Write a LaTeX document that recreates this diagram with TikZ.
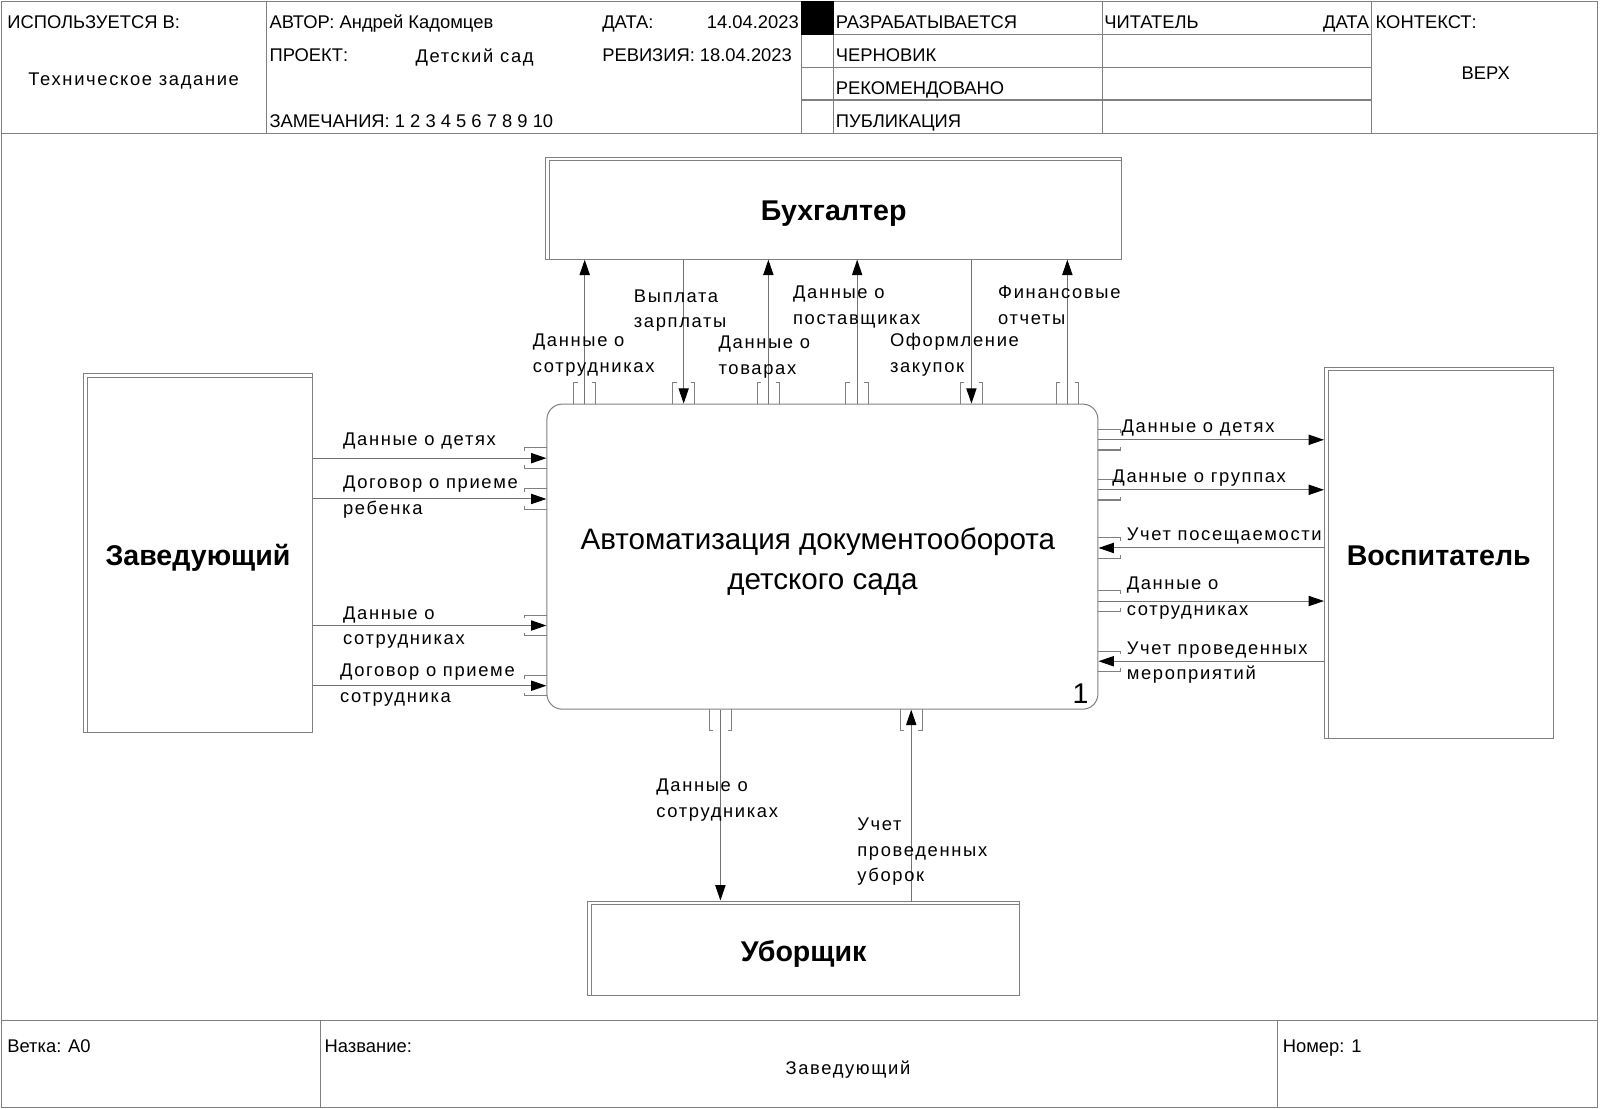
\documentclass[tikz,border=0pt]{standalone}
\usepackage{fontspec}
\setmainfont{Liberation Sans}
\newfontfamily\spacedfont[LetterSpace=9]{Liberation Sans}
\usetikzlibrary{arrows.meta}

\tikzset{
	frame/.style = {draw=black!50, line width=1pt},
	flow/.style = {draw=black!55, line width=1pt, -{Triangle[length=15pt, width=10pt, color=black]}},
	entity/.style = {frame, rectangle, inner sep=0pt, text height=25pt, text depth=0pt, font=\fontsize{28}{34}\bfseries},
	process/.style = {frame, rounded corners=15pt, inner sep=0pt, align=center, font=\fontsize{29}{39}\selectfont},
	hdr/.style = {anchor=base west, inner sep=0pt, font=\fontsize{18}{22}\selectfont},
	flowtext/.style = {anchor=base west, inner sep=0pt, align=left, font=\fontsize{18}{25}\spacedfont},
}

\begin{document}
\begin{tikzpicture}[x=1pt, y=-1pt]
		\useasboundingbox (0,0) rectangle (1568,1086);
		
		% sheet
		\draw [frame] (1,1) rectangle (1566,1085);
		\draw [frame] (1,131) -- (1566,131);
		\draw [frame] (1,1000) -- (1566,1000);
		\foreach \x in {261, 785, 817, 1080, 1344}
			\draw [frame] (\x,1) -- (\x,131);
		\foreach \y in {34, 66, 98}
			\draw [frame] (785,\y) -- (1344,\y);
		\fill (785,1) rectangle (817,34);
		\draw [frame] (314,1000) -- (314,1085);
		\draw [frame] (1252,1000) -- (1252,1085);
		
		\node [hdr] (used in) at (7,27.5) {ИСПОЛЬЗУЕТСЯ В:};
		\node [hdr, anchor=base, font=\fontsize{18}{22}\spacedfont] (spec) at (131,83.5) {Техническое задание};
		\node [hdr] (author) at (264,27.5) {АВТОР: Андрей Кадомцев};
		\node [hdr] (project) at (264,60.5) {ПРОЕКТ:};
		\node [hdr, font=\fontsize{18}{22}\spacedfont] (project name) at (407,61) {Детский сад};
		\node [hdr] (notes) at (264,124.5) {ЗАМЕЧАНИЯ: 1 2 3 4 5 6 7 8 9 10};
		\node [hdr] (date) at (590,27.5) {ДАТА:};
		\node [hdr, anchor=base east] (date value) at (783,27.5) {14.04.2023};
		\node [hdr] (revision) at (590,60.5) {РЕВИЗИЯ: 18.04.2023};
		\node [hdr] (working) at (819,27.5) {РАЗРАБАТЫВАЕТСЯ};
		\node [hdr] (draft) at (819,60.5) {ЧЕРНОВИК};
		\node [hdr] (recommended) at (819,92.5) {РЕКОМЕНДОВАНО};
		\node [hdr] (publication) at (819,124.5) {ПУБЛИКАЦИЯ};
		\node [hdr] (reader) at (1082,27.5) {ЧИТАТЕЛЬ};
		\node [hdr, anchor=base east] (reader date) at (1342,27.5) {ДАТА};
		\node [hdr] (context) at (1348,27.5) {КОНТЕКСТ:};
		\node [hdr, anchor=base] (top) at (1456,77.5) {ВЕРХ};
		
		\node [hdr] (branch) at (7,1031.5) {Ветка: A0};
		\node [hdr] (title) at (318,1031.5) {Название:};
		\node [hdr, anchor=base, font=\fontsize{18}{22}\spacedfont] (title value) at (831,1053) {Заведующий};
		\node [hdr] (number) at (1257,1031.5) {Номер: 1};
		
		% boxes
		\node [process, minimum width=540pt, minimum height=299pt] (process) at (806,545.5) {\rule{0pt}{31pt}Автоматизация документооборота\hspace*{9pt}\\детского сада};
		\node [anchor=base east, inner sep=0pt, font=\fontsize{28}{34}\selectfont] (process number) at (1067,689) {1};
		
		\node [entity, minimum width=564pt, minimum height=100pt] (accountant) at (817,204) {Бухгалтер};
		\node [entity, minimum width=224pt, minimum height=352pt] (head) at (194,542) {Заведующий};
		\node [entity, minimum width=224pt, minimum height=364pt] (teacher) at (1410,542) {Воспитатель};
		\node [entity, minimum width=423pt, minimum height=93pt] (cleaner) at (787.5,929.5) {Уборщик};
		
		\foreach \n in {accountant, head, teacher, cleaner}
			\draw [frame] ([xshift=4pt]\n.south west) |- ([yshift=-4pt]\n.north east);
		
		% tunnel brackets
		\foreach \x in {573, 670, 753, 840, 952, 1046} {
			\draw [frame] (\x-7,375) -- (\x-11,375) -- (\x-11,396);
			\draw [frame] (\x+7,375) -- (\x+11,375) -- (\x+11,396);
		}
		\foreach \x in {706, 893} {
			\draw [frame] (\x-11,695) -- (\x-11,716) -- (\x-7,716);
			\draw [frame] (\x+11,695) -- (\x+11,716) -- (\x+7,716);
		}
		\foreach \y in {449, 489, 613, 672} {
			\draw [frame] (514,\y-7) -- (514,\y-10) -- (536,\y-10);
			\draw [frame] (514,\y+7) -- (514,\y+10) -- (536,\y+10);
		}
		\foreach \y in {431, 480, 537, 589, 648} {
			\draw [frame] (1076,\y-10) -- (1098,\y-10) -- (1098,\y-7);
			\draw [frame] (1076,\y+10) -- (1098,\y+10) -- (1098,\y+7);
		}
		
		% accountant
		\draw [flow] (process.north -| 573,0) -- (accountant.south -| 573,0);
		\draw [flow] (accountant.south -| 670,0) -- (process.north -| 670,0);
		\draw [flow] (process.north -| 753,0) -- (accountant.south -| 753,0);
		\draw [flow] (process.north -| 840,0) -- (accountant.south -| 840,0);
		\draw [flow] (accountant.south -| 952,0) -- (process.north -| 952,0);
		\draw [flow] (process.north -| 1046,0) -- (accountant.south -| 1046,0);
		\node [flowtext] (staff text) at (522,365) {Данные о\\сотрудниках};
		\node [flowtext] (salary text) at (621,321) {Выплата\\зарплаты};
		\node [flowtext] (goods text) at (704,367) {Данные о\\товарах};
		\node [flowtext] (suppliers text) at (777,318) {Данные о\\поставщиках};
		\node [flowtext] (purchase text) at (872,365) {Оформление\\закупок};
		\node [flowtext] (reports text) at (978,318) {Финансовые\\отчеты};
		
		% head
		\draw [flow] (head.east |- 0,449) -- (process.west |- 0,449);
		\draw [flow] (head.east |- 0,489) -- (process.west |- 0,489);
		\draw [flow] (head.east |- 0,613) -- (process.west |- 0,613);
		\draw [flow] (head.east |- 0,672) -- (process.west |- 0,672);
		\node [flowtext] (children text) at (336,437) {Данные о детях};
		\node [flowtext] (child contract text) at (336,504) {Договор о приеме\\ребенка};
		\node [flowtext] (head staff text) at (336,632) {Данные о\\сотрудниках};
		\node [flowtext] (staff contract text) at (333,688) {Договор о приеме\\сотрудника};
		
		% teacher
		\draw [flow] (process.east |- 0,431) -- (teacher.west |- 0,431);
		\draw [flow] (process.east |- 0,480) -- (teacher.west |- 0,480);
		\draw [flow] (teacher.west |- 0,537) -- (process.east |- 0,537);
		\draw [flow] (process.east |- 0,589) -- (teacher.west |- 0,589);
		\draw [flow] (teacher.west |- 0,648) -- (process.east |- 0,648);
		\node [flowtext] (kids text) at (1099,424) {Данные о детях};
		\node [flowtext] (groups text) at (1090,473) {Данные о группах};
		\node [flowtext] (attendance text) at (1104,530) {Учет посещаемости};
		\node [flowtext] (teacher staff text) at (1104,603) {Данные о\\сотрудниках};
		\node [flowtext] (events text) at (1104,666) {Учет проведенных\\мероприятий};
		
		% cleaner
		\draw [flow] (process.south -| 706,0) -- (cleaner.north -| 706,0);
		\draw [flow] (cleaner.north -| 893,0) -- (process.south -| 893,0);
		\node [flowtext] (cleaner staff text) at (643,801) {Данные о\\сотрудниках};
		\node [flowtext] (cleaning text) at (840,864) {Учет\\проведенных\\уборок};
	\end{tikzpicture}
\end{document}
